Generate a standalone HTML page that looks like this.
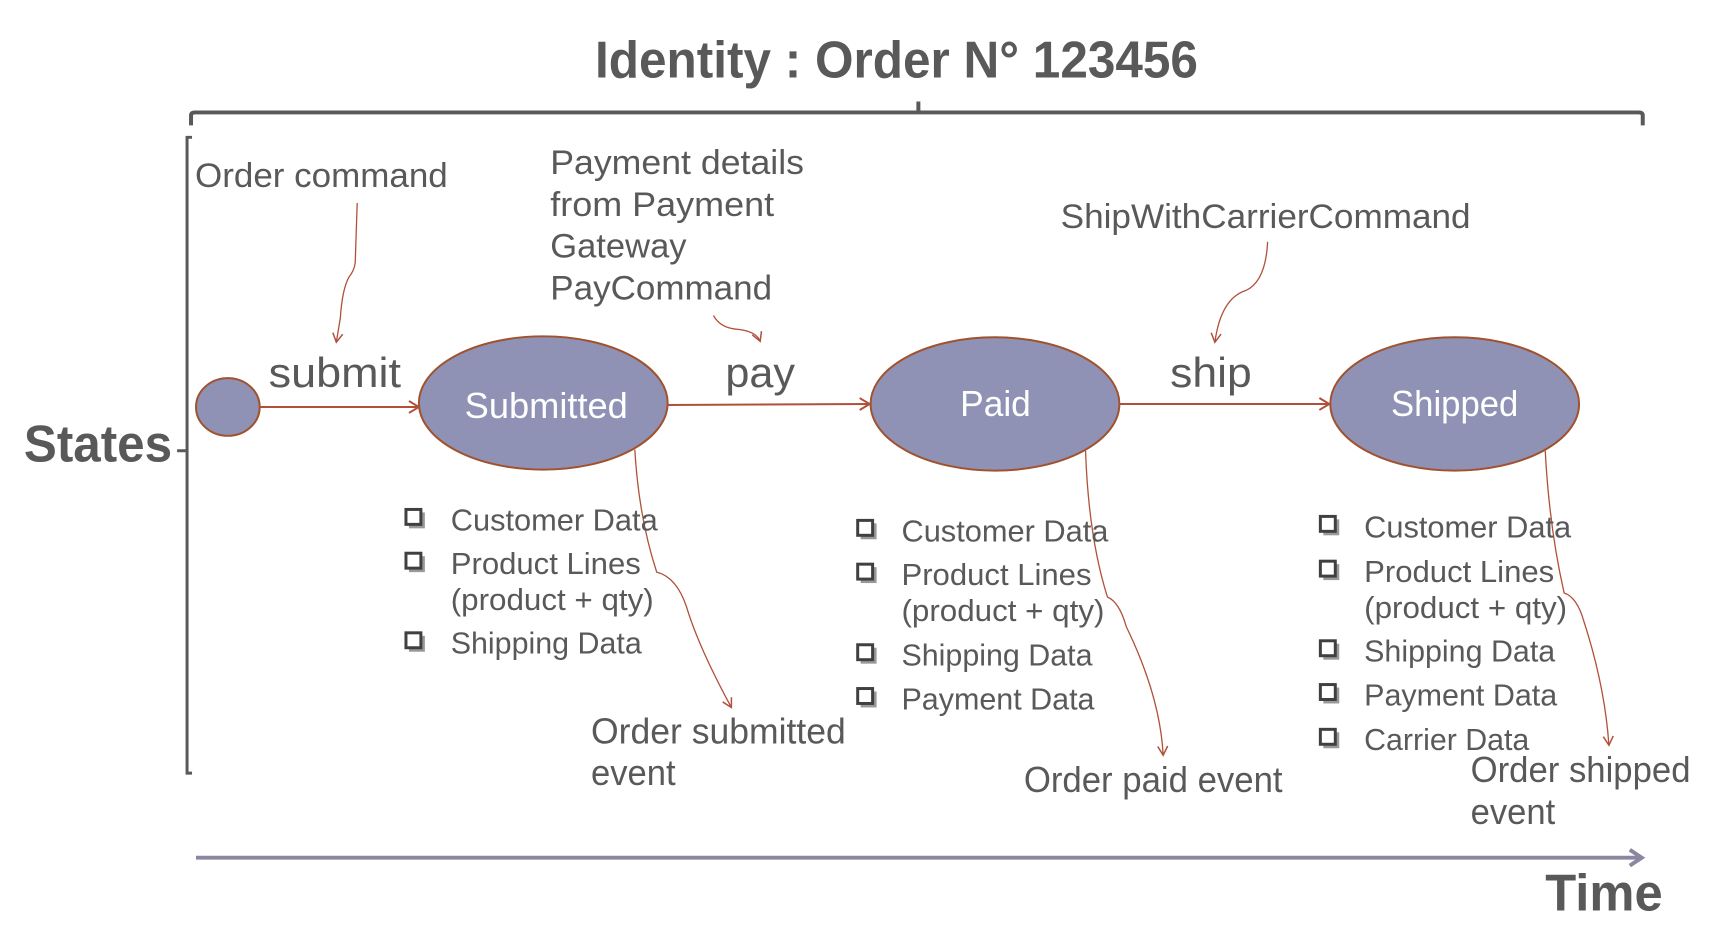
<!DOCTYPE html>
<html><head><meta charset="utf-8"><style>
html,body{margin:0;padding:0;background:#fff;}
svg{display:block;}
text{font-family:"Liberation Sans",sans-serif;fill:#595959;}
</style></head><body>
<svg width="1724" height="928" viewBox="0 0 1724 928" xmlns="http://www.w3.org/2000/svg">
<defs>
<marker id="ah" markerWidth="12" markerHeight="12" refX="10" refY="6" orient="auto" markerUnits="userSpaceOnUse">
<path d="M1,1 L10,6 L1,11" fill="none" stroke="#b0503a" stroke-width="1.5"/>
</marker>
<marker id="ah2" markerWidth="14" markerHeight="14" refX="11" refY="7" orient="auto" markerUnits="userSpaceOnUse">
<path d="M1,1 L11,7 L1,13" fill="none" stroke="#b0503a" stroke-width="2"/>
</marker>
<marker id="ta" markerWidth="20" markerHeight="20" refX="14" refY="10" orient="auto" markerUnits="userSpaceOnUse">
<path d="M2,2 L14,10 L2,18" fill="none" stroke="#8a87a0" stroke-width="4"/>
</marker>
</defs>
<g transform="scale(0.995)">
<!-- Title -->
<text x="598" y="78" font-size="52" font-weight="bold" textLength="606" lengthAdjust="spacingAndGlyphs">Identity : Order N° 123456</text>

<!-- top bracket -->
<path d="M192,126 L192,116 Q192,113 196,113 L1647,113 Q1651,113 1651,116 L1651,126" fill="none" stroke="#595959" stroke-width="4"/>
<line x1="923" y1="113" x2="923" y2="102" stroke="#595959" stroke-width="4"/>

<!-- left bracket -->
<path d="M193,138 L188,138 L188,777 L193,777" fill="none" stroke="#595959" stroke-width="3"/>
<line x1="188" y1="453" x2="178" y2="453" stroke="#595959" stroke-width="3"/>
<text x="24" y="464" font-size="52" font-weight="bold" textLength="149" lengthAdjust="spacingAndGlyphs">States</text>

<!-- Time arrow -->
<line x1="197" y1="862" x2="1650" y2="862" stroke="#8a87a0" stroke-width="4" marker-end="url(#ta)"/>
<text x="1553" y="915" font-size="52" font-weight="bold" textLength="118" lengthAdjust="spacingAndGlyphs">Time</text>

<!-- state nodes -->
<ellipse cx="229" cy="409" rx="32" ry="29" fill="#8f91b5" stroke="#a0522d" stroke-width="2"/>
<ellipse cx="546" cy="405" rx="125" ry="67" fill="#8f91b5" stroke="#a0522d" stroke-width="2"/>
<ellipse cx="1000" cy="406" rx="125" ry="67" fill="#8f91b5" stroke="#a0522d" stroke-width="2"/>
<ellipse cx="1462" cy="406" rx="125" ry="67" fill="#8f91b5" stroke="#a0522d" stroke-width="2"/>
<text x="467" y="420" font-size="36" style="fill:#fff" textLength="164" lengthAdjust="spacingAndGlyphs">Submitted</text>
<text x="965" y="418" font-size="36" style="fill:#fff" textLength="71" lengthAdjust="spacingAndGlyphs">Paid</text>
<text x="1398" y="418" font-size="36" style="fill:#fff" textLength="128" lengthAdjust="spacingAndGlyphs">Shipped</text>

<!-- transitions -->
<line x1="261" y1="409" x2="421" y2="409" stroke="#b0503a" stroke-width="2" marker-end="url(#ah2)"/>
<line x1="671" y1="407" x2="874" y2="406" stroke="#b0503a" stroke-width="2" marker-end="url(#ah2)"/>
<line x1="1125" y1="406" x2="1336" y2="406" stroke="#b0503a" stroke-width="2" marker-end="url(#ah2)"/>
<text x="270" y="389" font-size="42" textLength="133" lengthAdjust="spacingAndGlyphs">submit</text>
<text x="729" y="389" font-size="42" textLength="70" lengthAdjust="spacingAndGlyphs">pay</text>
<text x="1176" y="389" font-size="42" textLength="82" lengthAdjust="spacingAndGlyphs">ship</text>

<!-- command labels -->
<text x="196" y="188" font-size="34" textLength="254" lengthAdjust="spacingAndGlyphs">Order command</text>
<text x="553" y="175" font-size="34" textLength="255" lengthAdjust="spacingAndGlyphs">Payment details</text>
<text x="553" y="217" font-size="34" textLength="225" lengthAdjust="spacingAndGlyphs">from Payment</text>
<text x="553" y="259" font-size="34" textLength="137" lengthAdjust="spacingAndGlyphs">Gateway</text>
<text x="553" y="301" font-size="34" textLength="223" lengthAdjust="spacingAndGlyphs">PayCommand</text>
<text x="1066" y="229" font-size="34" textLength="412" lengthAdjust="spacingAndGlyphs">ShipWithCarrierCommand</text>

<!-- red curves -->
<g fill="none" stroke="#b0503a" stroke-width="1.3">
<path d="M359,204 L357,264 Q356,272 351,278 Q344,290 342,320 L338,344" marker-end="url(#ah)"/>
<path d="M717,317 Q724,330 742,331 Q760,333 764,343" marker-end="url(#ah)"/>
<path d="M1274,243 Q1272,283 1252,292 Q1227,300 1221,344" marker-end="url(#ah)"/>
<path d="M638,452 Q642,520 660,575 Q680,580 690,610 Q702,650 735,711" marker-end="url(#ah)"/>
<path d="M1091,453 Q1094,540 1113,600 Q1125,605 1132,630 Q1166,700 1169,759" marker-end="url(#ah)"/>
<path d="M1553,453 Q1557,530 1572,596 Q1585,600 1592,625 Q1613,690 1617,749" marker-end="url(#ah)"/>
</g>

<!-- event labels -->
<text x="594" y="747" font-size="36" textLength="256" lengthAdjust="spacingAndGlyphs">Order submitted</text>
<text x="594" y="789" font-size="36" textLength="85" lengthAdjust="spacingAndGlyphs">event</text>
<text x="1029" y="796" font-size="36" textLength="260" lengthAdjust="spacingAndGlyphs">Order paid event</text>
<text x="1478" y="786" font-size="36" textLength="221" lengthAdjust="spacingAndGlyphs">Order shipped</text>
<text x="1478" y="828" font-size="36" textLength="85" lengthAdjust="spacingAndGlyphs">event</text>

<!-- lists -->
<g fill="#999">
<rect x="411" y="515" width="16" height="16"/>
<rect x="411" y="559" width="16" height="16"/>
<rect x="411" y="639" width="16" height="16"/>
<rect x="865" y="526" width="16" height="16"/>
<rect x="865" y="570" width="16" height="16"/>
<rect x="865" y="651" width="16" height="16"/>
<rect x="865" y="695" width="16" height="16"/>
<rect x="1330" y="522" width="16" height="16"/>
<rect x="1330" y="567" width="16" height="16"/>
<rect x="1330" y="647" width="16" height="16"/>
<rect x="1330" y="691" width="16" height="16"/>
<rect x="1330" y="736" width="16" height="16"/>
</g>
<g fill="#fff" stroke="#404040" stroke-width="3">
<rect x="408" y="512" width="15" height="15"/>
<rect x="408" y="556" width="15" height="15"/>
<rect x="408" y="636" width="15" height="15"/>
<rect x="862" y="523" width="15" height="15"/>
<rect x="862" y="567" width="15" height="15"/>
<rect x="862" y="648" width="15" height="15"/>
<rect x="862" y="692" width="15" height="15"/>
<rect x="1327" y="519" width="15" height="15"/>
<rect x="1327" y="564" width="15" height="15"/>
<rect x="1327" y="644" width="15" height="15"/>
<rect x="1327" y="688" width="15" height="15"/>
<rect x="1327" y="733" width="15" height="15"/>
</g>
<g font-size="31">
<text x="453" y="533" textLength="208" lengthAdjust="spacingAndGlyphs">Customer Data</text>
<text x="453" y="577" textLength="191" lengthAdjust="spacingAndGlyphs">Product Lines</text>
<text x="453" y="613" textLength="204" lengthAdjust="spacingAndGlyphs">(product + qty)</text>
<text x="453" y="657" textLength="192" lengthAdjust="spacingAndGlyphs">Shipping Data</text>

<text x="906" y="544" textLength="208" lengthAdjust="spacingAndGlyphs">Customer Data</text>
<text x="906" y="588" textLength="191" lengthAdjust="spacingAndGlyphs">Product Lines</text>
<text x="906" y="624" textLength="204" lengthAdjust="spacingAndGlyphs">(product + qty)</text>
<text x="906" y="669" textLength="192" lengthAdjust="spacingAndGlyphs">Shipping Data</text>
<text x="906" y="713" textLength="194" lengthAdjust="spacingAndGlyphs">Payment Data</text>

<text x="1371" y="540" textLength="208" lengthAdjust="spacingAndGlyphs">Customer Data</text>
<text x="1371" y="585" textLength="191" lengthAdjust="spacingAndGlyphs">Product Lines</text>
<text x="1371" y="621" textLength="204" lengthAdjust="spacingAndGlyphs">(product + qty)</text>
<text x="1371" y="665" textLength="192" lengthAdjust="spacingAndGlyphs">Shipping Data</text>
<text x="1371" y="709" textLength="194" lengthAdjust="spacingAndGlyphs">Payment Data</text>
<text x="1371" y="754" textLength="166" lengthAdjust="spacingAndGlyphs">Carrier Data</text>
</g>
</g>
</svg>
</body></html>
